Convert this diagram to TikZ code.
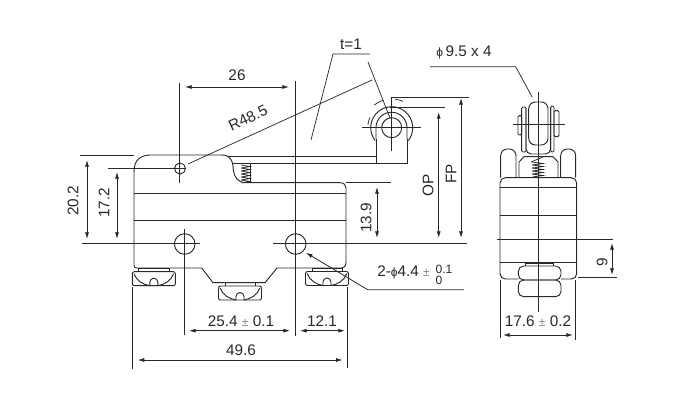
\documentclass[tikz,border=0pt]{standalone}
\usepackage{fontspec}
\setmainfont{Liberation Sans}
\usetikzlibrary{arrows.meta}
\definecolor{ink}{RGB}{40,40,40}
\definecolor{tolgray}{RGB}{130,130,130}
\newcommand{\dia}{{\fontsize{9}{10}\selectfont ϕ}}
\newcommand{\tol}{{\color{tolgray}\fontsize{9}{10}\selectfont ±}}
\tikzset{
  partline/.style={draw=ink,line width=0.7pt},
  thinline/.style={draw=ink,line width=0.55pt},
  dimline/.style={draw=ink,line width=0.6pt,>={Latex[length=5pt,width=3pt]}},
  dimlabel/.style={inner sep=0pt,text=ink,font=\fontsize{11.5}{12}\selectfont},
  foot/.pic={
    \draw[partline,rounded corners=1.5pt] (0,0) rectangle (43,14);
    \draw[partline] (6.5,0) -- (6.5,-3.5) -- (37,-3.5) -- (37,0);
    \draw[partline] (1.7,2) .. controls (4,9) and (11,13) .. (17.5,14) -- (17.5,10.5) arc (180:360:4) -- (25.5,14) .. controls (32,13) and (39,9) .. (41.3,2);
  }
}
\begin{document}
\begin{tikzpicture}[x=0.75pt,y=-0.75pt]
\useasboundingbox (0,0) rectangle (685,407);
% front view, body
\draw[partline,rounded corners=2pt] (201.7,268) -- (134,268) -- (134,172);
\draw[partline] (134,172) .. controls (134,160) and (140,155.5) .. (150,155) -- (222,155) .. controls (230,155) and (233,160) .. (233.3,170) .. controls (234,177) and (238,182.7) .. (246,182.7) -- (340,182.7) .. controls (344,182.7) and (346,185) .. (346,188) -- (346,262) .. controls (346,266) and (344,268) .. (342,268) -- (277,268) -- (265,282.7) -- (213,282.7) -- (201.7,268);
\draw[partline] (134,193) -- (346,193);
\draw[partline] (134,220.7) -- (346,220.7);
% lever and roller
\draw[partline] (228,156.5) -- (376,156.5) -- (376,139);
\draw[partline] (233,163) -- (407,163) -- (407,139);
\draw[partline] (376,163) -- (376,156.5);
\draw[partline] (391.7,127.7) circle (10);
\draw[partline] (376,139) -- (376,127.7) arc (180:360:15.5) -- (407,139);
\draw[partline] (391.7,127.7) ++(142:21) arc (142:398:21);
\draw[thinline] (391.7,127.7) ++(232:28.7) arc (232:253:28.7);
\draw[thinline] (391.7,127.7) ++(277:28.7) arc (277:293:28.7);
\draw[thinline] (391.7,127.7) ++(187:24) arc (187:205:24);
\draw[thinline] (362,127.7) -- (421,127.7);
\draw[thinline] (391.7,107) -- (391.7,151);
% spring
\foreach \coily in {165,168,...,180} {
  \draw[thinline] (241,\coily) -- (250,\coily+1.5) -- (241.5,\coily+3);
}
\draw[thinline] (250,164) -- (250,182.7);
% feet
\pic at (132.3,271.7) {foot};
\pic at (218.5,286) {foot};
\pic at (305.5,271.5) {foot};
% holes
\draw[partline] (180,168.5) circle (5.5);
\draw[partline] (184.7,244) circle (10.3);
\draw[partline] (295.7,244) circle (10.3);
% extension lines
\draw[thinline] (179.7,83) -- (179.7,183);
\draw[thinline] (295.5,81) -- (295.5,336);
\draw[thinline] (184.7,229) -- (184.7,335);
\draw[thinline] (80,155) -- (134,155);
\draw[thinline] (108,168.5) -- (186,168.5);
\draw[thinline] (82,243.5) -- (200,243.5);
\draw[thinline] (273,243) -- (467,243);
\draw[thinline] (346,182.7) -- (391,182.7);
\draw[thinline] (390,107) -- (445,107);
\draw[thinline] (391.7,107) -- (391.7,97.7) -- (469,97.7);
\draw[thinline] (132,287) -- (132,369);
\draw[thinline] (347.7,287) -- (347.7,368);
% leaders
\draw[thinline] (370,54) -- (333,54) -- (311,140);
\draw[thinline] (368,62) -- (390,118);
\draw[thinline] (188,164) -- (372,80);
\draw[dimline,->] (464,289.7) -- (367.7,289.7) -- (306,252.7);
\draw[thinline] (430,66.7) -- (515.7,66.7) -- (532.3,97.3);
% dimensions, front view
\draw[dimline,<->] (185,87) -- (289,87);
\draw[dimline,<->] (87,160) -- (87,239);
\draw[dimline,<->] (117,172) -- (117,239);
\draw[dimline,<->] (377,187) -- (377,238);
\draw[dimline,<->] (438.7,112) -- (438.7,238);
\draw[dimline,<->] (461,98) -- (461,238);
\draw[dimline,<->] (189,330.7) -- (290,330.7);
\draw[dimline,<->] (300,330.7) -- (345,330.7);
\draw[dimline,<->] (137.7,360) -- (342.7,360);
% side view
\draw[partline,rounded corners=5pt] (528.7,102) rectangle (548,145);
\draw[partline,rounded corners=4pt] (526,108) -- (526,154) -- (550.7,154) -- (550.7,108);
\draw[partline,rounded corners=1pt] (521.7,107) rectangle (526,152);
\draw[partline,rounded corners=1pt] (550.7,106) rectangle (554,152);
\draw[partline,rounded corners=1pt] (518,115.7) rectangle (521.7,135);
\draw[partline,rounded corners=1pt] (554,110.7) rectangle (559,136.7);
\draw[partline] (519,177.7) -- (519,162) -- (524,156.7) -- (553,156.7) -- (558,162) -- (558,177.7);
\draw[partline,rounded corners=5pt] (500.7,177.7) -- (500.7,149) -- (516,149) -- (516,177.7);
\draw[partline,rounded corners=5pt] (560.7,177.7) -- (560.7,149) -- (575.7,149) -- (575.7,177.7);
\draw[partline,rounded corners=4pt] (518.3,279) -- (500,279) -- (500,177.7) -- (576.7,177.7) -- (576.7,279) -- (561,279);
\foreach \bodyy in {187,215.7,262.7} {
  \draw[partline] (500,\bodyy) -- (576.7,\bodyy);
}
\draw[partline,rounded corners=4pt] (518.3,266) rectangle (561,280);
\draw[partline,rounded corners=4pt] (518.3,280) rectangle (561,296.7);
\draw[partline] (525.7,266) -- (525.7,263) -- (553,263) -- (553,266);
\foreach \coily in {162,165,...,174} {
  \draw[thinline] (532,\coily) -- (543,\coily+1.5) -- (532.5,\coily+3);
}
\draw[thinline] (531,162) -- (543,157);
\draw[thinline] (538,91.7) -- (538,311.7);
\draw[thinline] (512.7,124.3) -- (564.7,124.3);
\draw[thinline] (496.7,239) -- (613,239);
\draw[thinline] (578,277.7) -- (616.7,277.7);
\draw[thinline] (500.7,280) -- (500.7,338);
\draw[thinline] (575.7,280) -- (575.7,340);
\draw[dimline,<->] (612,243) -- (612,275);
\draw[dimline,<->] (503,335) -- (573,335);
% labels
\node[dimlabel] (dimtop) at (237,75) {26};
\node[dimlabel,rotate=25] (radius) at (248,118) {R48.5};
\node[dimlabel] (thick) at (351,44) {t=1};
\node[dimlabel] (rollerdim) at (464,52) {\dia\,9.5 x 4};
\node[dimlabel,rotate=90] (dimleft) at (73,201) {20.2};
\node[dimlabel,rotate=90] (dimpivot) at (104,203) {17.2};
\node[dimlabel,rotate=90] (dimstop) at (366,218) {13.9};
\node[dimlabel,rotate=90] (dimop) at (428,185) {OP};
\node[dimlabel,rotate=90] (dimfp) at (451,174) {FP};
\node[dimlabel] (dimholes) at (241,321) {25.4 \tol\ 0.1};
\node[dimlabel] (dimend) at (322,321) {12.1};
\node[dimlabel] (dimlength) at (241,350) {49.6};
\node[dimlabel,anchor=west] (dimdia) at (377,272) {2-\dia 4.4 \tol};
\node[dimlabel,font=\fontsize{9}{10}\selectfont] (tolup) at (444,269) {0.1};
\node[dimlabel,font=\fontsize{9}{10}\selectfont] (toldown) at (439,280) {0};
\node[dimlabel,rotate=90] (dimnine) at (602,262) {9};
\node[dimlabel] (dimwidth) at (538,321) {17.6 \tol\ 0.2};
\end{tikzpicture}
\end{document}
